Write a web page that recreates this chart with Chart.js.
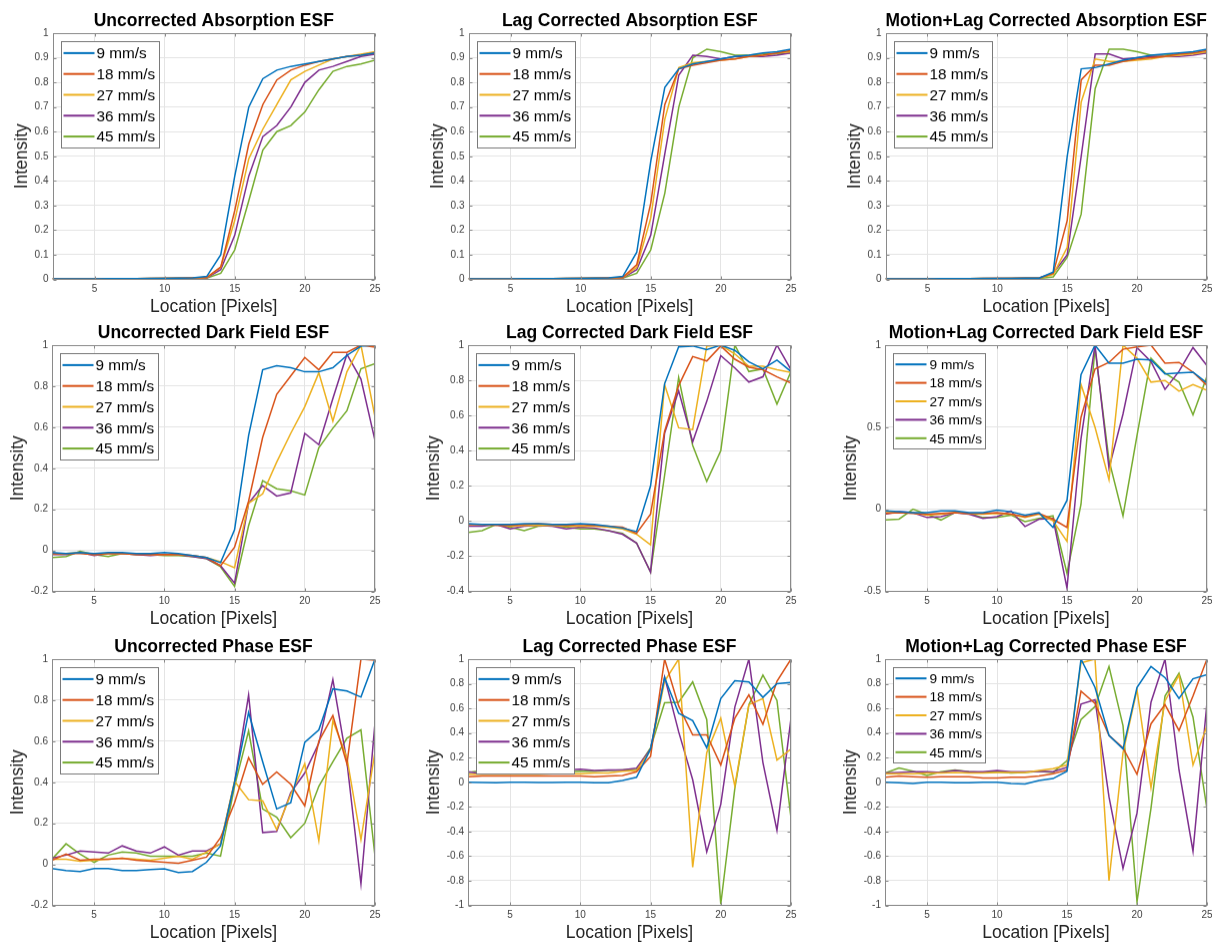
<!DOCTYPE html>
<html>
<head>
<meta charset="utf-8">
<script src="https://cdn.jsdelivr.net/npm/chart.js@4.4.1/dist/chart.umd.min.js"></script>
<style>
html, body { margin: 0; padding: 0; background: #fff; overflow: hidden; width: 1212px; height: 943px; }
.panel { position: absolute; }
</style>
</head>
<body>
<script>
// pixel positions along the edge profile
var pixels = [2, 3, 4, 5, 6, 7, 8, 9, 10, 11, 12, 13, 14, 15, 16, 17, 18, 19, 20, 21, 22, 23, 24, 25];
var speeds = ['9 mm/s', '18 mm/s', '27 mm/s', '36 mm/s', '45 mm/s'];

var titles = [
    'Uncorrected Absorption ESF', 'Lag Corrected Absorption ESF', 'Motion+Lag Corrected Absorption ESF',
    'Uncorrected Dark Field ESF', 'Lag Corrected Dark Field ESF', 'Motion+Lag Corrected Dark Field ESF',
    'Uncorrected Phase ESF', 'Lag Corrected Phase ESF', 'Motion+Lag Corrected Phase ESF'
];
var yMins = [0, 0, 0, -0.2, -0.4, -0.5, -0.2, -1, -1];
var yMaxs = [1, 1, 1, 1, 1, 1, 1, 1, 1];
var ySteps = [0.1, 0.1, 0.1, 0.2, 0.2, 0.5, 0.2, 0.2, 0.2];

/* Absorption */
var absUncorrected = [
    [.002, .002, .002, .002, .003, .003, .003, .004, .004, .005, .006, .012, .10, .42, .70, .815, .85, .865, .875, .885, .895, .905, .91, .92],
    [.002, .002, .002, .002, .003, .003, .003, .004, .004, .005, .006, .008, .05, .28, .55, .71, .81, .85, .87, .885, .895, .905, .91, .92],
    [.002, .002, .002, .002, .003, .003, .003, .004, .004, .005, .005, .007, .05, .24, .49, .61, .71, .81, .845, .87, .895, .905, .915, .925],
    [.002, .002, .002, .002, .003, .003, .003, .003, .004, .004, .005, .006, .04, .18, .42, .58, .625, .70, .80, .85, .865, .885, .905, .915],
    [.002, .002, .002, .002, .002, .003, .003, .003, .004, .004, .004, .005, .025, .12, .32, .525, .60, .625, .68, .77, .845, .865, .875, .89]
];
var absLag = [
    [.002, .002, .002, .002, .003, .003, .003, .004, .004, .005, .006, .012, .11, .48, .78, .855, .875, .885, .895, .905, .91, .92, .925, .935],
    [.002, .002, .002, .002, .003, .003, .003, .004, .004, .005, .006, .008, .06, .31, .71, .855, .87, .88, .89, .895, .905, .91, .92, .93],
    [.002, .002, .002, .002, .003, .003, .003, .004, .004, .005, .005, .007, .05, .25, .65, .86, .88, .885, .89, .895, .905, .91, .92, .925],
    [.002, .002, .002, .002, .003, .003, .003, .003, .004, .004, .005, .006, .04, .18, .51, .83, .91, .905, .895, .905, .905, .905, .91, .92],
    [.002, .002, .002, .002, .002, .003, .003, .003, .004, .004, .004, .005, .025, .12, .35, .70, .90, .935, .925, .91, .91, .915, .915, .92]
];
var absMotionLag = [
    [.002, .002, .002, .002, .003, .003, .003, .004, .004, .004, .005, .005, .03, .50, .855, .86, .875, .89, .90, .91, .915, .92, .925, .935],
    [.002, .002, .002, .002, .003, .003, .003, .004, .004, .004, .005, .005, .025, .24, .81, .87, .87, .885, .895, .90, .905, .915, .92, .93],
    [.002, .002, .002, .002, .003, .003, .003, .004, .004, .004, .005, .005, .02, .13, .72, .895, .885, .885, .89, .895, .905, .91, .915, .925],
    [.002, .002, .002, .002, .003, .003, .003, .003, .004, .004, .005, .006, .025, .10, .50, .915, .915, .895, .90, .905, .905, .905, .91, .92],
    [.002, .002, .002, .002, .002, .003, .003, .003, .003, .004, .004, .004, .01, .09, .265, .775, .935, .935, .925, .91, .91, .915, .92, .92]
];

/* Dark field */
var dfUncorrected = [
    [-.01, -.015, -.01, -.015, -.01, -.01, -.015, -.015, -.01, -.015, -.025, -.035, -.06, .10, .56, .88, .90, .89, .87, .87, .89, .95, .995, 1.0],
    [-.015, -.015, -.015, -.02, -.015, -.015, -.02, -.02, -.02, -.02, -.025, -.035, -.075, .015, .24, .55, .76, .85, .94, .88, .965, .965, 1.0, .99],
    [-.015, -.015, -.01, -.02, -.015, -.015, -.015, -.02, -.02, -.02, -.025, -.035, -.055, -.085, .23, .275, .43, .57, .70, .865, .63, .87, 1.0, .65],
    [-.02, -.02, -.01, -.025, -.015, -.015, -.02, -.025, -.02, -.02, -.03, -.04, -.075, -.16, .23, .315, .265, .28, .57, .515, .74, .955, .835, .535],
    [-.035, -.03, -.005, -.02, -.03, -.015, -.02, -.02, -.025, -.025, -.03, -.04, -.08, -.175, .12, .34, .30, .29, .27, .50, .595, .68, .885, .91]
];
var dfLag = [
    [-.015, -.02, -.02, -.02, -.015, -.015, -.02, -.02, -.015, -.02, -.03, -.04, -.06, .20, .78, .99, .995, .975, 1.0, .97, .905, .865, .915, .85],
    [-.02, -.02, -.025, -.025, -.02, -.015, -.02, -.025, -.02, -.025, -.03, -.035, -.07, .04, .51, .77, .935, .91, .995, .92, .875, .86, .82, .785],
    [-.02, -.02, -.02, -.03, -.025, -.025, -.025, -.03, -.03, -.03, -.035, -.045, -.075, -.135, .775, .53, .52, .995, 1.0, .95, .88, .88, .86, .845],
    [-.03, -.03, -.02, -.045, -.03, -.025, -.03, -.045, -.035, -.04, -.055, -.075, -.125, -.29, .50, .74, .45, .68, .94, .87, .79, .82, 1.0, .86],
    [-.065, -.055, -.02, -.035, -.055, -.03, -.025, -.035, -.045, -.045, -.055, -.07, -.125, -.29, .26, .815, .43, .225, .40, 1.0, .85, .865, .665, .85]
];
var dfMotionLag = [
    [-.01, -.015, -.02, -.02, -.01, -.01, -.02, -.02, -.005, -.015, -.035, -.02, -.11, .055, .82, 1.0, .89, .89, .915, .91, .825, .83, .835, .77],
    [-.025, -.02, -.025, -.03, -.025, -.02, -.025, -.025, -.02, -.03, -.045, -.025, -.06, -.11, .56, .855, .895, .975, .99, 1.0, .89, .895, .835, .755],
    [-.02, -.02, -.02, -.035, -.03, -.02, -.025, -.03, -.025, -.03, -.05, -.03, -.07, -.195, .76, .50, .18, 1.0, .92, .775, .785, .72, .76, .725],
    [-.03, -.015, -.02, -.05, -.045, -.02, -.03, -.055, -.045, -.01, -.105, -.06, -.055, -.48, .43, 1.0, .25, .58, .985, .90, .73, .84, .985, .875],
    [-.065, -.06, 0.0, -.03, -.065, -.02, -.025, -.05, -.05, -.035, -.075, -.055, -.04, -.39, .03, .98, .30, -.04, .45, .92, .83, .775, .575, .81]
];

/* Phase */
var phUncorrected = [
    [-.02, -.03, -.035, -.02, -.02, -.03, -.03, -.025, -.022, -.04, -.035, .01, .09, .40, .74, .50, .27, .30, .595, .655, .855, .845, .815, 1.0],
    [.02, .05, .02, .025, .025, .03, .02, .015, .01, .005, .02, .035, .13, .30, .52, .39, .45, .39, .285, .60, .725, .49, 1.0, .995],
    [.025, .025, .015, .02, .025, .03, .025, .02, .03, .04, .025, .06, .10, .405, .315, .31, .17, .34, .49, .115, .70, .52, .12, .55],
    [.03, .045, .065, .06, .055, .09, .065, .055, .085, .045, .065, .065, .10, .40, .825, .155, .16, .35, .445, .59, .90, .50, -.095, .69],
    [.025, .10, .05, .01, .045, .06, .055, .04, .04, .04, .04, .055, .04, .38, .65, .27, .23, .13, .20, .38, .50, .615, .655, .04]
];
var phLag = [
    [0.0, -.003, -.005, 0.0, 0.0, -.003, -.003, 0.0, 0.0, -.005, -.005, .015, .04, .27, .85, .56, .50, .28, .68, .825, .815, .69, .80, .81],
    [.045, .05, .05, .05, .05, .05, .05, .05, .05, .045, .05, .055, .085, .21, 1.0, .62, .385, .385, .14, .52, .71, .47, .82, 1.0],
    [.065, .065, .065, .065, .065, .065, .07, .07, .07, .075, .075, .09, .095, .26, .82, 1.0, -.69, .24, .52, -.03, .63, .68, .18, .27],
    [.085, .07, .08, .085, .09, .09, .095, .10, .105, .095, .10, .10, .115, .27, .855, .41, .02, -.565, -.18, .61, 1.0, .16, -.39, .52],
    [.08, .095, .085, .08, .085, .09, .09, .085, .09, .09, .095, .10, .105, .28, .645, .65, .815, .51, -.99, -.05, .63, .87, .665, -.29]
];
var phMotionLag = [
    [0.0, -.005, -.01, 0.0, 0.0, -.005, -.005, 0.0, 0.0, -.01, -.015, .015, .03, .09, 1.0, .77, .38, .27, .77, .94, .85, .68, .84, .875],
    [.04, .05, .045, .04, .045, .045, .045, .035, .035, .04, .04, .05, .07, .10, .74, .64, .38, .28, .065, .475, .63, .42, .70, 1.0],
    [.07, .07, .07, .075, .075, .08, .075, .075, .08, .08, .08, .095, .11, .14, .97, 1.0, -.80, .24, .75, -.045, .66, .87, .14, .46],
    [.075, .08, .085, .085, .08, .095, .085, .085, .095, .085, .085, .09, .085, .12, .635, .67, -.12, -.70, -.25, .65, 1.0, .10, -.56, .65],
    [.075, .115, .09, .055, .085, .10, .085, .08, .085, .075, .08, .09, .08, .175, .51, .615, .94, .46, -.97, -.21, .70, .885, .53, -.22]
];

var panelData = [absUncorrected, absLag, absMotionLag, dfUncorrected, dfLag, dfMotionLag, phUncorrected, phLag, phMotionLag];

var lineColors = ['#0072BD', '#D95319', '#EDB120', '#7E2F8E', '#77AC30'];
var fontFamily = "'Liberation Sans', Arial, Helvetica, sans-serif";

// plot box edges (MATLAB axes positions)
var plotLefts = [52, 468, 885];
var plotRights = [375, 791, 1207];
var plotTops = [33, 345, 659];
var plotBottoms = [279, 591, 905];

Chart.defaults.font.family = fontFamily;

// MATLAB style tick text: 1, 0.9, 0, -0.2
function matlabTick(v) {
    var r = Math.round(v * 100) / 100;
    if (r === 0) r = 0;
    return String(r);
}

/* box round the axes with small inward ticks */
var axesBox = {
    id: 'axesBox',
    afterDatasetsDraw: function (chart) {
        var ctx = chart.ctx;
        var a = chart.chartArea;
        var l = Math.round(a.left) + 0.5, r = Math.round(a.right) - 0.5;
        var t = Math.round(a.top) + 0.5, b = Math.round(a.bottom) - 0.5;
        ctx.save();
        ctx.strokeStyle = '#8a8a8a';
        ctx.lineWidth = 1;
        ctx.strokeRect(l, t, r - l, b - t);
        ctx.beginPath();
        chart.scales.x.ticks.forEach(function (tk) {
            var px = Math.round(chart.scales.x.getPixelForValue(tk.value)) + 0.5;
            ctx.moveTo(px, b); ctx.lineTo(px, b - 3);
            ctx.moveTo(px, t); ctx.lineTo(px, t + 3);
        });
        chart.scales.y.ticks.forEach(function (tk) {
            var py = Math.round(chart.scales.y.getPixelForValue(tk.value)) + 0.5;
            ctx.moveTo(l, py); ctx.lineTo(l + 3, py);
            ctx.moveTo(r, py); ctx.lineTo(r - 3, py);
        });
        ctx.stroke();
        ctx.restore();
    }
};

/* MATLAB style legend inside the axes */
var esfLegend = {
    id: 'esfLegend',
    afterDatasetsDraw: function (chart, args, opts) {
        var ctx = chart.ctx;
        var a = chart.chartArea;
        var sets = chart.data.datasets;
        ctx.save();
        ctx.font = opts.size + 'px ' + fontFamily;
        var maxW = 0;
        for (var i = 0; i < sets.length; i++) {
            maxW = Math.max(maxW, ctx.measureText(sets[i].label).width);
        }
        var x0 = Math.round(a.left + 8) + 0.5;
        var y0 = Math.round(a.top + 8) + 0.5;
        var w = Math.round(opts.textOffset + maxW + 4);
        var h = Math.round(sets.length * opts.row + opts.pad);
        ctx.fillStyle = '#fff';
        ctx.fillRect(x0, y0, w, h);
        ctx.strokeStyle = '#7a7a7a';
        ctx.lineWidth = 1;
        ctx.strokeRect(x0, y0, w, h);
        ctx.textBaseline = 'middle';
        for (var i = 0; i < sets.length; i++) {
            var y = y0 + opts.pad / 2 + opts.row * (i + 0.5);
            ctx.strokeStyle = sets[i].borderColor;
            ctx.lineWidth = 2;
            ctx.beginPath();
            ctx.moveTo(x0 + 2, y);
            ctx.lineTo(x0 + opts.lineLen, y);
            ctx.stroke();
            ctx.fillStyle = '#000';
            ctx.fillText(sets[i].label, x0 + opts.textOffset, y + 1);
        }
        ctx.restore();
    }
};

for (var p = 0; p < 9; p++) {
    var row = Math.floor(p / 3);
    var col = p % 3;
    var L = plotLefts[col], R = plotRights[col], T = plotTops[row], B = plotBottoms[row];
    var yW = row === 0 ? 40.5 : 44;
    var titleH = 26;
    var xH = 38.5;
    var padR = col === 2 ? 1212 - R : 6;

    var div = document.createElement('div');
    div.className = 'panel';
    div.style.left = (L - yW) + 'px';
    div.style.top = (T - titleH) + 'px';
    var cw = R - L + yW + padR;
    var chh = B - T + titleH + xH;
    div.style.width = cw + 'px';
    div.style.height = chh + 'px';
    var canvas = document.createElement('canvas');
    canvas.width = cw;
    canvas.height = chh;
    canvas.style.width = cw + 'px';
    canvas.style.height = chh + 'px';
    div.appendChild(canvas);
    document.body.appendChild(div);

    var datasets = [];
    for (var s = 0; s < speeds.length; s++) {
        var pts = [];
        for (var k = 0; k < pixels.length; k++) {
            pts.push({ x: pixels[k], y: panelData[p][s][k] });
        }
        datasets.push({
            label: speeds[s],
            data: pts,
            borderColor: lineColors[s],
            backgroundColor: lineColors[s],
            borderWidth: 1.5,
            pointRadius: 0,
            tension: 0,
            fill: false
        });
    }

    var smallLegend = (p === 5 || p === 8);
    (function (yW, xH, padR) {
        new Chart(canvas.getContext('2d'), {
            type: 'line',
            data: { datasets: datasets },
            options: {
                responsive: false,
                animation: false,
                devicePixelRatio: 1,
                layout: { padding: { left: 0, top: 0, right: padR, bottom: 0 } },
                plugins: {
                    legend: { display: false },
                    tooltip: { enabled: false },
                    title: {
                        display: true,
                        text: titles[p],
                        fullSize: false,
                        color: '#000',
                        font: { size: 17.5, weight: 'bold' },
                        padding: { top: 4, bottom: 1 }
                    },
                    esfLegend: smallLegend
                        ? { size: 13.7, row: 18.4, pad: 3, textOffset: 36, lineLen: 33 }
                        : { size: 15.3, row: 20.8, pad: 2, textOffset: 35, lineLen: 33 }
                },
                scales: {
                    x: {
                        type: 'linear',
                        min: 2,
                        max: 25,
                        ticks: { stepSize: 5, includeBounds: false, maxRotation: 0, padding: 4, color: '#404040', font: { size: 10 }, callback: matlabTick },
                        grid: { color: '#e4e4e4', drawTicks: false },
                        border: { display: false },
                        title: { display: true, text: 'Location [Pixels]', color: '#262626', font: { size: 17.5 }, padding: 0 },
                        afterFit: function (sc) { sc.height = xH; sc.paddingLeft = 0; sc.paddingRight = 0; }
                    },
                    y: {
                        min: yMins[p],
                        max: yMaxs[p],
                        ticks: { stepSize: ySteps[p], padding: 4, color: '#404040', font: { size: 10 }, callback: matlabTick },
                        grid: { color: '#e4e4e4', drawTicks: false },
                        border: { display: false },
                        title: { display: true, text: 'Intensity', color: '#262626', font: { size: 17.5 }, padding: 0 },
                        afterFit: function (sc) { sc.width = yW; sc.paddingTop = 0; sc.paddingBottom = 0; }
                    }
                }
            },
            plugins: [axesBox, esfLegend]
        });
    })(yW, xH, padR);
}
</script>
</body>
</html>
